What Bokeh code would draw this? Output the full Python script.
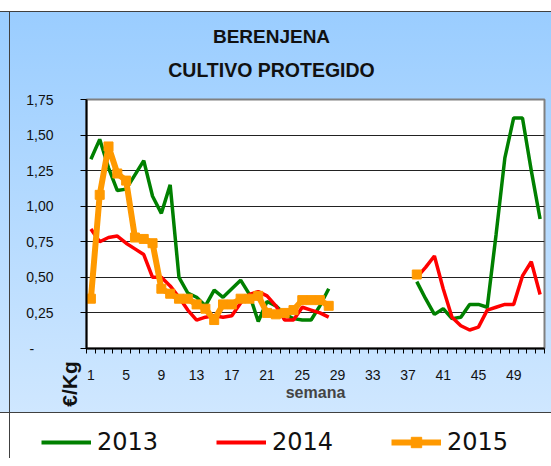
import math
import numpy as np
from bokeh.plotting import figure
from bokeh.models import FixedTicker, Label, Legend, LegendItem, Range1d
from bokeh.embed import file_html
from bokeh.resources import INLINE

nan = float("nan")

# ---- data (precio €/Kg por semana) ----
weeks = list(range(1, 53))
gap = [nan] * 9  # semanas 29-37 sin datos
y2013 = [1.33, 1.47, 1.27, 1.11, 1.12, 1.22, 1.32, 1.07, 0.95, 1.15,
         0.50, 0.39, 0.36, 0.30, 0.41, 0.36, 0.42, 0.48, 0.38, 0.19,
         0.33, 0.30, 0.24, 0.21, 0.20, 0.20, 0.30, 0.42] + gap + \
        [0.47, 0.35, 0.24, 0.28, 0.21, 0.22, 0.31, 0.31, 0.29, 0.80,
         1.34, 1.62, 1.62, 1.25, 0.91]
y2014 = [0.84, 0.75, 0.78, 0.79, 0.74, 0.70, 0.66, 0.50, 0.50, 0.44,
         0.36, 0.27, 0.20, 0.22, 0.23, 0.22, 0.23, 0.32, 0.38, 0.40,
         0.37, 0.30, 0.20, 0.20, 0.29, 0.27, 0.25, 0.22] + gap + \
        [0.50, 0.57, 0.65, 0.42, 0.22, 0.16, 0.13, 0.15, 0.27, 0.29,
         0.31, 0.31, 0.51, 0.61, 0.38]
y2015 = [0.35, 1.08, 1.42, 1.23, 1.18, 0.78, 0.77, 0.74, 0.42, 0.385,
         0.35, 0.35, 0.31, 0.28, 0.20, 0.31, 0.31, 0.35, 0.35, 0.37,
         0.25, 0.24, 0.25, 0.27, 0.34, 0.34, 0.34, 0.30] + gap + \
        [0.52] + [nan] * 14

y_ticks = [0, 0.25, 0.5, 0.75, 1.0, 1.25, 1.5, 1.75]
y_tick_labels = ["-\u00a0\u00a0\u00a0\u00a0\u00a0", "0,25", "0,50", "0,75",
                 "1,00", "1,25", "1,50", "1,75"]
x_label_ticks = list(range(1, 53, 4))
series_names = ["2013", "2014", "2015"]
colors = ["#008000", "#FF0000", "#FF9900"]

title1 = "BERENJENA"
title2 = "CULTIVO PROTEGIDO"
y_title = "€/Kg"
x_title = "semana"

FONT = "Liberation Sans"
W = 551

# ================= main chart (551 x 412) =================
p = figure(width=W, height=412,
           x_range=Range1d(0.5, 52.5), y_range=Range1d(0, 1.75),
           output_backend="svg", toolbar_location=None,
           min_border_left=86, min_border_right=7,
           min_border_top=99, min_border_bottom=64,
           background_fill_color="white", border_fill_color=None,
           outline_line_color="#808080", outline_line_width=2)
p.styles = {
    "background-color": "#ffffff",
    "background-image": ("linear-gradient(#404040, #404040), "
                         "linear-gradient(#404040, #404040), "
                         "linear-gradient(to bottom, #9acdff, #cfe7ff)"),
    "background-size": "1px 401px, 100% 1px, 100% 401px",
    "background-position": "9px 11px, 0px 11px, 0px 11px",
    "background-repeat": "no-repeat, no-repeat, no-repeat",
}

wk = np.array(weeks, dtype=float)
p.line(wk, np.array(y2013, dtype=float), line_color=colors[0], line_width=3.5)
p.line(wk, np.array(y2014, dtype=float), line_color=colors[1], line_width=3.5)
p.line(wk, np.array(y2015, dtype=float), line_color=colors[2], line_width=6)
p.scatter(wk, np.array(y2015, dtype=float), marker="square", size=9,
          fill_color=colors[2], line_color=colors[2])

# y axis
p.yaxis.ticker = FixedTicker(ticks=y_ticks)
p.yaxis.major_label_overrides = {t: l for t, l in zip(y_ticks, y_tick_labels)}
p.yaxis.major_tick_out = 6
p.yaxis.major_tick_in = 0
p.yaxis.minor_tick_line_color = None
p.yaxis.axis_line_width = 2
p.yaxis.axis_line_color = "black"
p.yaxis.major_tick_line_color = "black"
p.yaxis.major_label_standoff = 27
p.yaxis.major_label_text_font = FONT
p.yaxis.major_label_text_font_size = "14px"
p.yaxis.major_label_text_color = "#111111"

# x axis
p.xaxis.ticker = FixedTicker(ticks=x_label_ticks,
                             minor_ticks=[w + 0.5 for w in range(0, 53)])
p.xaxis.major_tick_line_color = None
p.xaxis.major_tick_out = 5
p.xaxis.major_tick_in = 0
p.xaxis.minor_tick_out = 5
p.xaxis.minor_tick_in = 0
p.xaxis.minor_tick_line_color = "black"
p.xaxis.axis_line_width = 2
p.xaxis.axis_line_color = "black"
p.xaxis.major_label_standoff = 16
p.xaxis.major_label_text_font = FONT
p.xaxis.major_label_text_font_size = "14px"
p.xaxis.major_label_text_color = "#111111"
p.xaxis.axis_label = x_title
p.xaxis.axis_label_text_font = FONT
p.xaxis.axis_label_text_font_style = "bold"
p.xaxis.axis_label_text_font_size = "16px"
p.xaxis.axis_label_standoff = 1

p.xgrid.grid_line_color = None
p.ygrid.ticker = FixedTicker(ticks=y_ticks)
p.ygrid.grid_line_color = "#222222"
p.ygrid.grid_line_width = 1

# titles and y label: side-panel labels in canvas pixel units (not clipped)
p.add_layout(Label(x=271, y=36, x_units="canvas", y_units="canvas", text=title1,
                   text_align="center", text_baseline="middle", text_font=FONT,
                   text_font_style="bold", text_font_size="19px", text_color="#111111"),
             "above")
p.add_layout(Label(x=271, y=69, x_units="canvas", y_units="canvas", text=title2,
                   text_align="center", text_baseline="middle", text_font=FONT,
                   text_font_style="bold", text_font_size="19.5px", text_color="#111111"),
             "above")
p.add_layout(Label(x=68.5, y=383.5, x_units="canvas", y_units="canvas", text=y_title,
                   angle=math.pi / 2, text_align="center", text_baseline="middle",
                   text_font=FONT, text_font_style="bold", text_font_size="21px",
                   text_color="#111111"),
             "above")

# ================= legend strip (551 x 46) =================
lg = figure(width=W, height=46, x_range=Range1d(0, W), y_range=Range1d(0, 46),
            output_backend="svg", toolbar_location=None, min_border=0,
            x_axis_location=None, y_axis_location=None,
            background_fill_color=None, border_fill_color=None,
            outline_line_color=None)
lg.grid.visible = False
lg.styles = {
    "background-color": "#ffffff",
    "background-image": ("linear-gradient(#404040, #404040), "
                         "linear-gradient(#404040, #404040)"),
    "background-size": "100% 1px, 1px 100%",
    "background-position": "0px 0px, 9px 0px",
    "background-repeat": "no-repeat, no-repeat",
}
# legend proxies: one NaN point each (nothing is drawn in the strip itself)
proxy = np.array([nan])
r13 = lg.line(x=proxy, y=proxy, line_color=colors[0], line_width=4)
r14 = lg.line(x=proxy, y=proxy, line_color=colors[1], line_width=4)
r15l = lg.line(x=proxy, y=proxy, line_color=colors[2], line_width=6)
r15s = lg.scatter(x=proxy, y=proxy, marker="square", size=8,
                  fill_color=colors[2], line_color=colors[2])
legend = Legend(items=[LegendItem(label=series_names[0], renderers=[r13]),
                       LegendItem(label=series_names[1], renderers=[r14]),
                       LegendItem(label=series_names[2], renderers=[r15l, r15s])],
                orientation="horizontal", location=(41, 2),
                padding=0, margin=0, spacing=55,
                glyph_width=50, glyph_height=26, label_height=26, label_width=64,
                label_standoff=6, label_text_font="DejaVu Sans",
                label_text_font_size="24px", label_text_color="#111111",
                border_line_color=None, background_fill_alpha=0)
lg.add_layout(legend)

open("out.html", "w").write(file_html([p, lg], INLINE))
